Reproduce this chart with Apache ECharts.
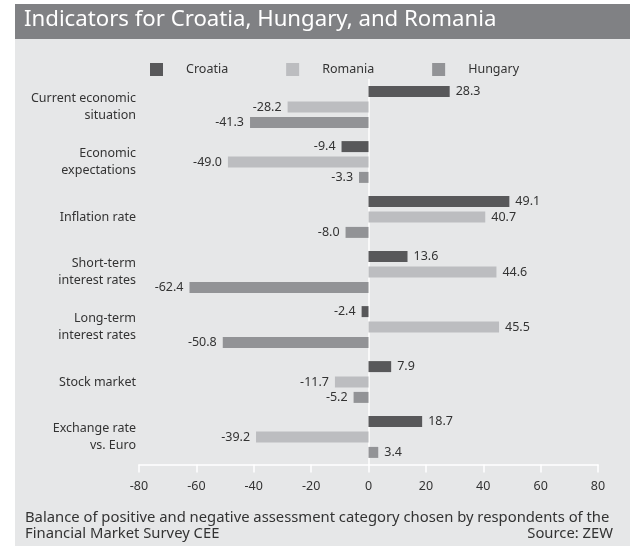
<!DOCTYPE html>
<html>
<head>
<meta charset="utf-8">
<script src="https://cdn.jsdelivr.net/npm/echarts@6/dist/echarts.min.js"></script>
<style>
html,body{margin:0;padding:0;background:#fff;}
#chart{width:635px;height:546px;}
</style>
</head>
<body>
<div id="chart"></div>
<script>
const categories = [
  'Current economic\nsituation',
  'Economic\nexpectations',
  'Inflation rate',
  'Short-term\ninterest rates',
  'Long-term\ninterest rates',
  'Stock market',
  'Exchange rate\nvs. Euro'
];
const croatia = [28.3, -9.4, 49.1, 13.6, -2.4, 7.9, 18.7];
const romania = [-28.2, -49.0, 40.7, 44.6, 45.5, -11.7, -39.2];
const hungary = [-41.3, -3.3, -8.0, -62.4, -50.8, -5.2, 3.4];
const xTicks = [-80, -60, -40, -20, 0, 20, 40, 60, 80];

const FONT = 'Noto Sans';
const TXT = '#333333';

function mkData(arr) {
  return arr.map(v => ({ value: v, label: { position: v >= 0 ? 'right' : 'left' } }));
}
function mkSeries(name, arr, color) {
  return {
    name: name,
    type: 'bar',
    yAxisIndex: 0,
    data: mkData(arr),
    barWidth: 11,
    barGap: '40%',
    itemStyle: { color: color },
    label: {
      show: true,
      distance: 6,
      color: TXT,
      fontFamily: FONT,
      fontSize: 12.5,
      formatter: p => p.value.toFixed(1)
    }
  };
}

const chart = echarts.init(document.getElementById('chart'), null, { renderer: 'canvas' });
chart.setOption({
  animation: false,
  backgroundColor: '#ffffff',
  textStyle: { fontFamily: FONT },
  graphic: [
    { type: 'rect', z: -10, shape: { x: 15, y: 4, width: 615, height: 542 }, style: { fill: '#e6e7e8' } },
    { type: 'rect', z: -9, shape: { x: 15, y: 4, width: 615, height: 35 }, style: { fill: '#808184' } }
  ],
  title: [
    {
      text: 'Indicators for Croatia, Hungary, and Romania',
      left: 24, top: 9, padding: 0,
      textStyle: { color: '#ffffff', fontFamily: FONT, fontWeight: 'normal', fontSize: 22.2 }
    },
    {
      text: 'Balance of positive and negative assessment category chosen by respondents of the\nFinancial Market Survey CEE',
      left: 25, top: 510, padding: 0,
      textStyle: { color: TXT, fontFamily: FONT, fontWeight: 'normal', fontSize: 14.8, lineHeight: 16 }
    },
    {
      text: 'Source: ZEW',
      right: 22, top: 526, padding: 0,
      textStyle: { color: TXT, fontFamily: FONT, fontWeight: 'normal', fontSize: 14.8, lineHeight: 16 }
    }
  ],
  legend: {
    left: 145, top: 58,
    itemWidth: 13, itemHeight: 13,
    itemGap: 58,
    icon: 'rect',
    textStyle: { color: TXT, fontFamily: FONT, fontSize: 12.5, padding: [0, 0, 0, 18] },
    data: ['Croatia', 'Romania', 'Hungary']
  },
  grid: { left: 139, right: 37, top: 79.5, bottom: 81.5, containLabel: false },
  xAxis: {
    type: 'value',
    min: -80, max: 80, interval: 20,
    axisLine: { show: true, onZero: false, lineStyle: { color: '#ffffff', width: 1.5 } },
    axisTick: { show: true, length: 8, lineStyle: { color: '#ffffff', width: 1.5 } },
    axisLabel: { color: TXT, fontFamily: FONT, fontSize: 12.5, margin: 15,
      formatter: v => xTicks.includes(v) ? String(v) : '' },
    splitLine: { show: false }
  },
  yAxis: [
    {
      type: 'category',
      inverse: true,
      data: categories,
      axisLine: { show: false, onZero: false },
      axisTick: { show: false },
      axisLabel: { color: TXT, fontFamily: FONT, fontSize: 12.5, lineHeight: 17, margin: 3, align: 'right' },
      splitLine: { show: false }
    },
    {
      type: 'category',
      inverse: true,
      data: categories,
      position: 'left',
      axisLine: { show: true, onZero: true, lineStyle: { color: '#ffffff', width: 1.5 } },
      axisTick: { show: false },
      axisLabel: { show: false },
      splitLine: { show: false }
    }
  ],
  series: [
    mkSeries('Croatia', croatia, '#58585a'),
    mkSeries('Romania', romania, '#bcbdc0'),
    mkSeries('Hungary', hungary, '#929396')
  ]
});
</script>
</body>
</html>
